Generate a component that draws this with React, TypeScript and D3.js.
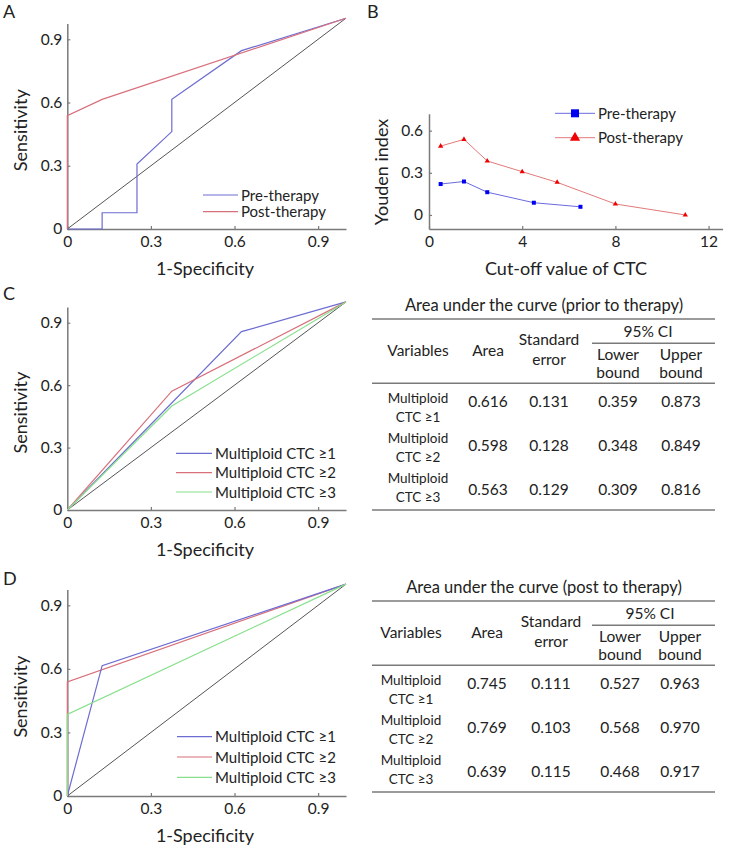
import { useEffect, useRef } from "react";
import * as d3 from "d3";

// ── Data ──────────────────────────────────────────────────────────────────────

type Pt = [number, number];

const ROC_TICKS = [0, 0.3, 0.6, 0.9];

// A: ROC, pre vs post therapy
const A_PRE: Pt[] = [
  [0, 0], [0.125, 0], [0.125, 0.077], [0.25, 0.077], [0.25, 0.308],
  [0.375, 0.462], [0.375, 0.615], [0.625, 0.846], [1, 1],
];
const A_POST: Pt[] = [[0, 0], [0, 0.538], [0.125, 0.615], [1, 1]];
const A_LABELS = ["Pre-therapy", "Post-therapy"];

// B: Youden index by cut-off
const B_PRE_X = [0.5, 1.5, 2.5, 4.5, 6.5];
const B_PRE_Y = [0.22, 0.238, 0.162, 0.087, 0.058];
const B_POST_X = [0.5, 1.5, 2.5, 4, 5.5, 8, 11];
const B_POST_Y = [0.49, 0.538, 0.384, 0.308, 0.232, 0.078, 0];
const B_X_TICKS = [0, 4, 8, 12];
const B_Y_TICKS = [0, 0.3, 0.6];
const B_LABELS = ["Pre-therapy", "Post-therapy"];

// C: ROC prior to therapy
const C_GE1: Pt[] = [[0, 0], [0.625, 0.857], [1, 1]];
const C_GE2: Pt[] = [[0, 0], [0.375, 0.571], [1, 1]];
const C_GE3: Pt[] = [[0, 0], [0.375, 0.5], [1, 1]];

// D: ROC post therapy
const D_GE1: Pt[] = [[0, 0], [0.125, 0.615], [1, 1]];
const D_GE2: Pt[] = [[0, 0], [0, 0.538], [1, 1]];
const D_GE3: Pt[] = [[0, 0], [0, 0.385], [1, 1]];

const MULTI_LABELS = ["Multiploid CTC ≥1", "Multiploid CTC ≥2", "Multiploid CTC ≥3"];

// Tables
const VAR_LINES = [
  ["Multiploid", "CTC ≥1"],
  ["Multiploid", "CTC ≥2"],
  ["Multiploid", "CTC ≥3"],
];
const C_TITLE = "Area under the curve (prior to therapy)";
const C_VALUES = [
  ["0.616", "0.131", "0.359", "0.873"],
  ["0.598", "0.128", "0.348", "0.849"],
  ["0.563", "0.129", "0.309", "0.816"],
];
const D_TITLE = "Area under the curve (post to therapy)";
const D_VALUES = [
  ["0.745", "0.111", "0.527", "0.963"],
  ["0.769", "0.103", "0.568", "0.970"],
  ["0.639", "0.115", "0.468", "0.917"],
];

// ── Style ─────────────────────────────────────────────────────────────────────

const FONT = "Lato, 'Open Sans', sans-serif";
const INK = "#222";
const AXIS = "#7a7a7a";
const BLUE = "#6c6cd2";
const RED = "#d8707c";
const GREEN = "#88e08c";
const DIAG = "#555";
const RULE = "#7a7a7a";
const TICK_SIZE = 15.5;

type Sel = d3.Selection<SVGSVGElement, unknown, null, undefined>;

function fmtTick(d: d3.NumberValue) {
  const v = Number(d);
  return v === 0 ? "0" : d3.format(".1f")(v);
}

function styleAxis(ax: d3.Selection<SVGGElement, unknown, null, undefined>, size = TICK_SIZE) {
  ax.select(".domain").attr("stroke", AXIS).attr("stroke-width", 1.5);
  ax.selectAll(".tick line").attr("stroke", AXIS).attr("stroke-width", 1.2);
  ax.selectAll("text").attr("fill", INK).attr("font-size", size).attr("font-family", FONT);
}

// ── ROC panel ─────────────────────────────────────────────────────────────────

interface RocCfg {
  letter: string;
  letterY: number;
  yBottom: number;
  yOne: number;
  series: { pts: Pt[]; color: string; label: string }[];
  order: number[];
  legend: { x1: number; x2: number; y: number; dy: number };
}

function drawRoc(svg: Sel, cfg: RocCfg) {
  const x = d3.scaleLinear().domain([0, 1]).range([67.3, 346]);
  const y = d3.scaleLinear().domain([0, 1]).range([cfg.yBottom, cfg.yOne]);
  const g = svg.append("g");

  g.append("text").attr("x", 3).attr("y", cfg.letterY).attr("font-size", 18)
    .attr("font-family", FONT).attr("fill", INK).text(cfg.letter);

  // x axis
  const xa = g.append("g").attr("transform", `translate(0,${cfg.yBottom})`)
    .call(d3.axisBottom(x).tickValues(ROC_TICKS).tickSizeInner(-3).tickSizeOuter(0)
      .tickPadding(7).tickFormat(fmtTick));
  styleAxis(xa);

  // y axis (line stops a little short of 1)
  const yAxisScale = d3.scaleLinear().domain([0, 0.975]).range([cfg.yBottom, y(0.975)]);
  const ya = g.append("g").attr("transform", `translate(${x(0)},0)`)
    .call(d3.axisLeft(yAxisScale).tickValues(ROC_TICKS).tickSizeInner(-3).tickSizeOuter(0)
      .tickPadding(5).tickFormat(fmtTick));
  styleAxis(ya);

  // diagonal
  const line = d3.line<Pt>().x((d) => x(d[0])).y((d) => y(d[1]));
  g.append("path").attr("d", line([[0, 0], [1, 1]])).attr("fill", "none")
    .attr("stroke", DIAG).attr("stroke-width", 1);

  cfg.order.forEach((i) => {
    const s = cfg.series[i];
    g.append("path").attr("d", line(s.pts)).attr("fill", "none")
      .attr("stroke", s.color).attr("stroke-width", 1.2);
  });

  // legend
  cfg.series.forEach((s, i) => {
    const ly = cfg.legend.y + i * cfg.legend.dy;
    g.append("line").attr("x1", cfg.legend.x1).attr("x2", cfg.legend.x2)
      .attr("y1", ly).attr("y2", ly).attr("stroke", s.color).attr("stroke-width", 1.2);
    g.append("text").attr("x", cfg.legend.x2 + 3).attr("y", ly + 5.5)
      .attr("font-size", 15).attr("font-family", FONT).attr("fill", INK).text(s.label);
  });

  // titles
  g.append("text").attr("x", 205).attr("y", cfg.yBottom + 46).attr("text-anchor", "middle")
    .attr("font-size", 18).attr("font-family", FONT).attr("fill", INK).text("1-Specificity");
  const cy = (cfg.yBottom + y(0.975)) / 2 + 4;
  g.append("text").attr("transform", `translate(27,${cy}) rotate(-90)`)
    .attr("text-anchor", "middle").attr("font-size", 18).attr("font-family", FONT)
    .attr("fill", INK).text("Sensitivity");
}

// ── Youden panel ──────────────────────────────────────────────────────────────

function drawYouden(svg: Sel) {
  const unit = 23.3;
  const x = d3.scaleLinear().domain([0, 12.6]).range([429, 429 + 12.6 * unit]);
  const y = d3.scaleLinear().domain([-0.1, 0.72]).range([229, 229 - 0.82 * 140.5]);
  const g = svg.append("g");

  g.append("text").attr("x", 367).attr("y", 18).attr("font-size", 18)
    .attr("font-family", FONT).attr("fill", INK).text("B");

  const xa = g.append("g").attr("transform", `translate(0,${y(-0.1)})`)
    .call(d3.axisBottom(x).tickValues(B_X_TICKS).tickSizeInner(-3).tickSizeOuter(0)
      .tickPadding(7).tickFormat(d3.format("d")));
  styleAxis(xa);
  const ya = g.append("g").attr("transform", `translate(${x(0)},0)`)
    .call(d3.axisLeft(y).tickValues(B_Y_TICKS).tickSizeInner(-3).tickSizeOuter(0)
      .tickPadding(6).tickFormat(fmtTick));
  styleAxis(ya);

  const pre: Pt[] = B_PRE_X.map((v, i) => [x(v), y(B_PRE_Y[i])]);
  const post: Pt[] = B_POST_X.map((v, i) => [x(v), y(B_POST_Y[i])]);

  g.append("path").attr("d", d3.line()(post)).attr("fill", "none")
    .attr("stroke", "#e27a7a").attr("stroke-width", 1);
  g.append("path").attr("d", d3.line()(pre)).attr("fill", "none")
    .attr("stroke", "#6a6ae0").attr("stroke-width", 1);

  const tri = d3.symbol(d3.symbolTriangle, 12);
  const sq = d3.symbol(d3.symbolSquare, 16);
  post.forEach((p) => {
    g.append("path").attr("d", tri()).attr("transform", `translate(${p[0]},${p[1]})`)
      .attr("fill", "#f00000");
  });
  pre.forEach((p) => {
    g.append("path").attr("d", sq()).attr("transform", `translate(${p[0]},${p[1]})`)
      .attr("fill", "#0000f0");
  });

  // legend
  const lx1 = 555, lx2 = 595, ly = [113.3, 137.7];
  const colors = ["#6a6ae0", "#e27a7a"];
  const marks = [d3.symbol(d3.symbolSquare, 64), d3.symbol(d3.symbolTriangle, 45)];
  const markFill = ["#0000f0", "#f00000"];
  B_LABELS.forEach((lab, i) => {
    g.append("line").attr("x1", lx1).attr("x2", lx2).attr("y1", ly[i]).attr("y2", ly[i])
      .attr("stroke", colors[i]).attr("stroke-width", 1);
    g.append("path").attr("d", marks[i]()).attr("transform", `translate(${(lx1 + lx2) / 2},${ly[i]})`)
      .attr("fill", markFill[i]);
    g.append("text").attr("x", lx2 + 3).attr("y", ly[i] + 5.5).attr("font-size", 15)
      .attr("font-family", FONT).attr("fill", INK).text(lab);
  });

  g.append("text").attr("x", 566).attr("y", 275).attr("text-anchor", "middle")
    .attr("font-size", 18).attr("font-family", FONT).attr("fill", INK).text("Cut-off value of CTC");
  g.append("text").attr("transform", `translate(388,172) rotate(-90)`).attr("text-anchor", "middle")
    .attr("font-size", 18).attr("font-family", FONT).attr("fill", INK).text("Youden index");
}

// ── Table ─────────────────────────────────────────────────────────────────────

function drawTable(svg: Sel, off: number, title: string, values: string[][], cols: number[], ciX: number) {
  const g = svg.append("g").attr("transform", `translate(0,${off})`);
  const txt = (x: number, y: number, s: string, size: number) =>
    g.append("text").attr("x", x).attr("y", y).attr("text-anchor", "middle")
      .attr("font-size", size).attr("font-family", FONT).attr("fill", INK).text(s);
  const rule = (x1: number, x2: number, y: number) =>
    g.append("line").attr("x1", x1).attr("x2", x2).attr("y1", y).attr("y2", y)
      .attr("stroke", RULE).attr("stroke-width", 1.5);

  txt(544, 311, title, 16.5);
  rule(372, 715, 319);
  txt(ciX, 336.5, "95% CI", 15.5);
  rule(592, 715, 343.3);
  txt(cols[0], 356, "Variables", 15.5);
  txt(cols[1], 356, "Area", 15.5);
  txt(cols[2], 345, "Standard", 15.5);
  txt(cols[2], 364.5, "error", 15.5);
  txt(cols[3], 359.5, "Lower", 15.5);
  txt(cols[3], 377.5, "bound", 15.5);
  txt(cols[4], 359.5, "Upper", 15.5);
  txt(cols[4], 377.5, "bound", 15.5);
  rule(372, 715, 383.3);

  values.forEach((row, i) => {
    const vy = 407.3 + i * 44;
    const ny = 402.7 + i * 40;
    txt(cols[0], ny, VAR_LINES[i][0], 13.5);
    txt(cols[0], ny + 19, VAR_LINES[i][1], 13.5);
    row.forEach((v, j) => txt(cols[j + 1], vy, v, 15.5));
  });
  rule(372, 715, 510);
}

// ── App ───────────────────────────────────────────────────────────────────────

export default function App() {
  const ref = useRef<SVGSVGElement>(null);

  useEffect(() => {
    if (!ref.current) return;
    const svg = d3.select(ref.current);
    svg.selectAll("*").remove();

    drawRoc(svg, {
      letter: "A",
      letterY: 18,
      yBottom: 229,
      yOne: 18.2,
      series: [
        { pts: A_PRE, color: BLUE, label: A_LABELS[0] },
        { pts: A_POST, color: RED, label: A_LABELS[1] },
      ],
      order: [0, 1],
      legend: { x1: 203, x2: 238, y: 195, dy: 16.7 },
    });
    drawYouden(svg);
    drawRoc(svg, {
      letter: "C",
      letterY: 300,
      yBottom: 510,
      yOne: 301.9,
      series: [
        { pts: C_GE1, color: BLUE, label: MULTI_LABELS[0] },
        { pts: C_GE2, color: RED, label: MULTI_LABELS[1] },
        { pts: C_GE3, color: GREEN, label: MULTI_LABELS[2] },
      ],
      order: [0, 1, 2],
      legend: { x1: 176, x2: 212, y: 453.3, dy: 19.35 },
    });
    drawRoc(svg, {
      letter: "D",
      letterY: 585,
      yBottom: 796,
      yOne: 584.1,
      series: [
        { pts: D_GE1, color: BLUE, label: MULTI_LABELS[0] },
        { pts: D_GE2, color: RED, label: MULTI_LABELS[1] },
        { pts: D_GE3, color: GREEN, label: MULTI_LABELS[2] },
      ],
      order: [1, 0, 2],
      legend: { x1: 177, x2: 212, y: 736.7, dy: 20.3 },
    });
    drawTable(svg, 0, C_TITLE, C_VALUES, [418, 488, 549, 618, 681], 648);
    drawTable(svg, 282, D_TITLE, D_VALUES, [411, 487, 551, 620, 680], 650);
  }, []);

  return (
    <svg
      ref={ref}
      width={735}
      height={856}
      style={{ position: "absolute", left: 0, top: 0, background: "#fff" }}
    />
  );
}
